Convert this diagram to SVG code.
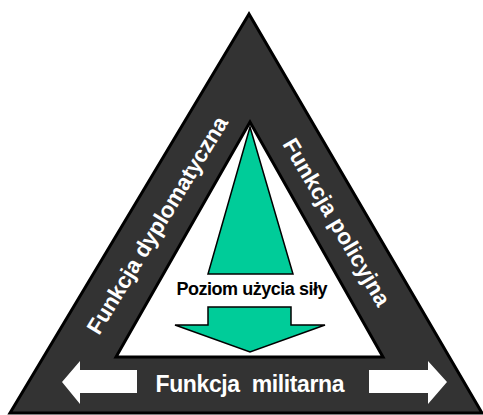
<svg xmlns="http://www.w3.org/2000/svg" width="483" height="415" viewBox="0 0 483 415">
<style>
.band{fill:#333333;stroke:#000;stroke-width:3;stroke-linejoin:miter}
.inner{fill:#fff;stroke:#000;stroke-width:3}
.green{fill:#00CC99;stroke:#000;stroke-width:1.5}
.warrow{fill:#fff;stroke:none}
.wt{font-family:"Liberation Sans",Arial,sans-serif;font-weight:bold;fill:#fff}
.bt{font-family:"Liberation Sans",Arial,sans-serif;font-weight:bold;fill:#000}
</style>
<rect width="483" height="415" fill="#fff"/>
<g id="outer-triangle">
<polygon class="band" points="249,14 10,413 482,413"/>
</g>
<g id="inner-triangle">
<polygon class="inner" points="250,122 116,357 383,357"/>
</g>
<g id="force-wedge">
<polygon class="green" points="250,127 208,274 293,274"/>
</g>
<g id="force-label">
<text class="bt" x="252" y="295" font-size="18" text-anchor="middle" textLength="151">Poziom użycia siły</text>
</g>
<g id="force-arrow">
<polygon class="green" points="208,307 291,307 291,325 325,325 250,352 175,325 208,325"/>
</g>
<g id="diplomatic">
<text class="wt" transform="translate(157,225) rotate(-58.7)" x="0" y="8" font-size="22.5" text-anchor="middle" textLength="250">Funkcja dyplomatyczna</text>
</g>
<g id="police">
<text class="wt" transform="translate(337,222) rotate(59.6)" x="0" y="8" font-size="22.5" text-anchor="middle" textLength="190">Funkcja policyjna</text>
</g>
<g id="military">
<text class="wt" x="250" y="392" font-size="23" text-anchor="middle" textLength="189" xml:space="preserve" style="white-space:pre">Funkcja  militarna</text>
</g>
<g id="connectors">
<polygon class="warrow" points="62,382 80,361 80,370 137,370 137,393 80,393 80,404"/>
<polygon class="warrow" points="447,382 428,361 428,370 369,370 369,393 428,393 428,404"/>
</g>
</svg>
